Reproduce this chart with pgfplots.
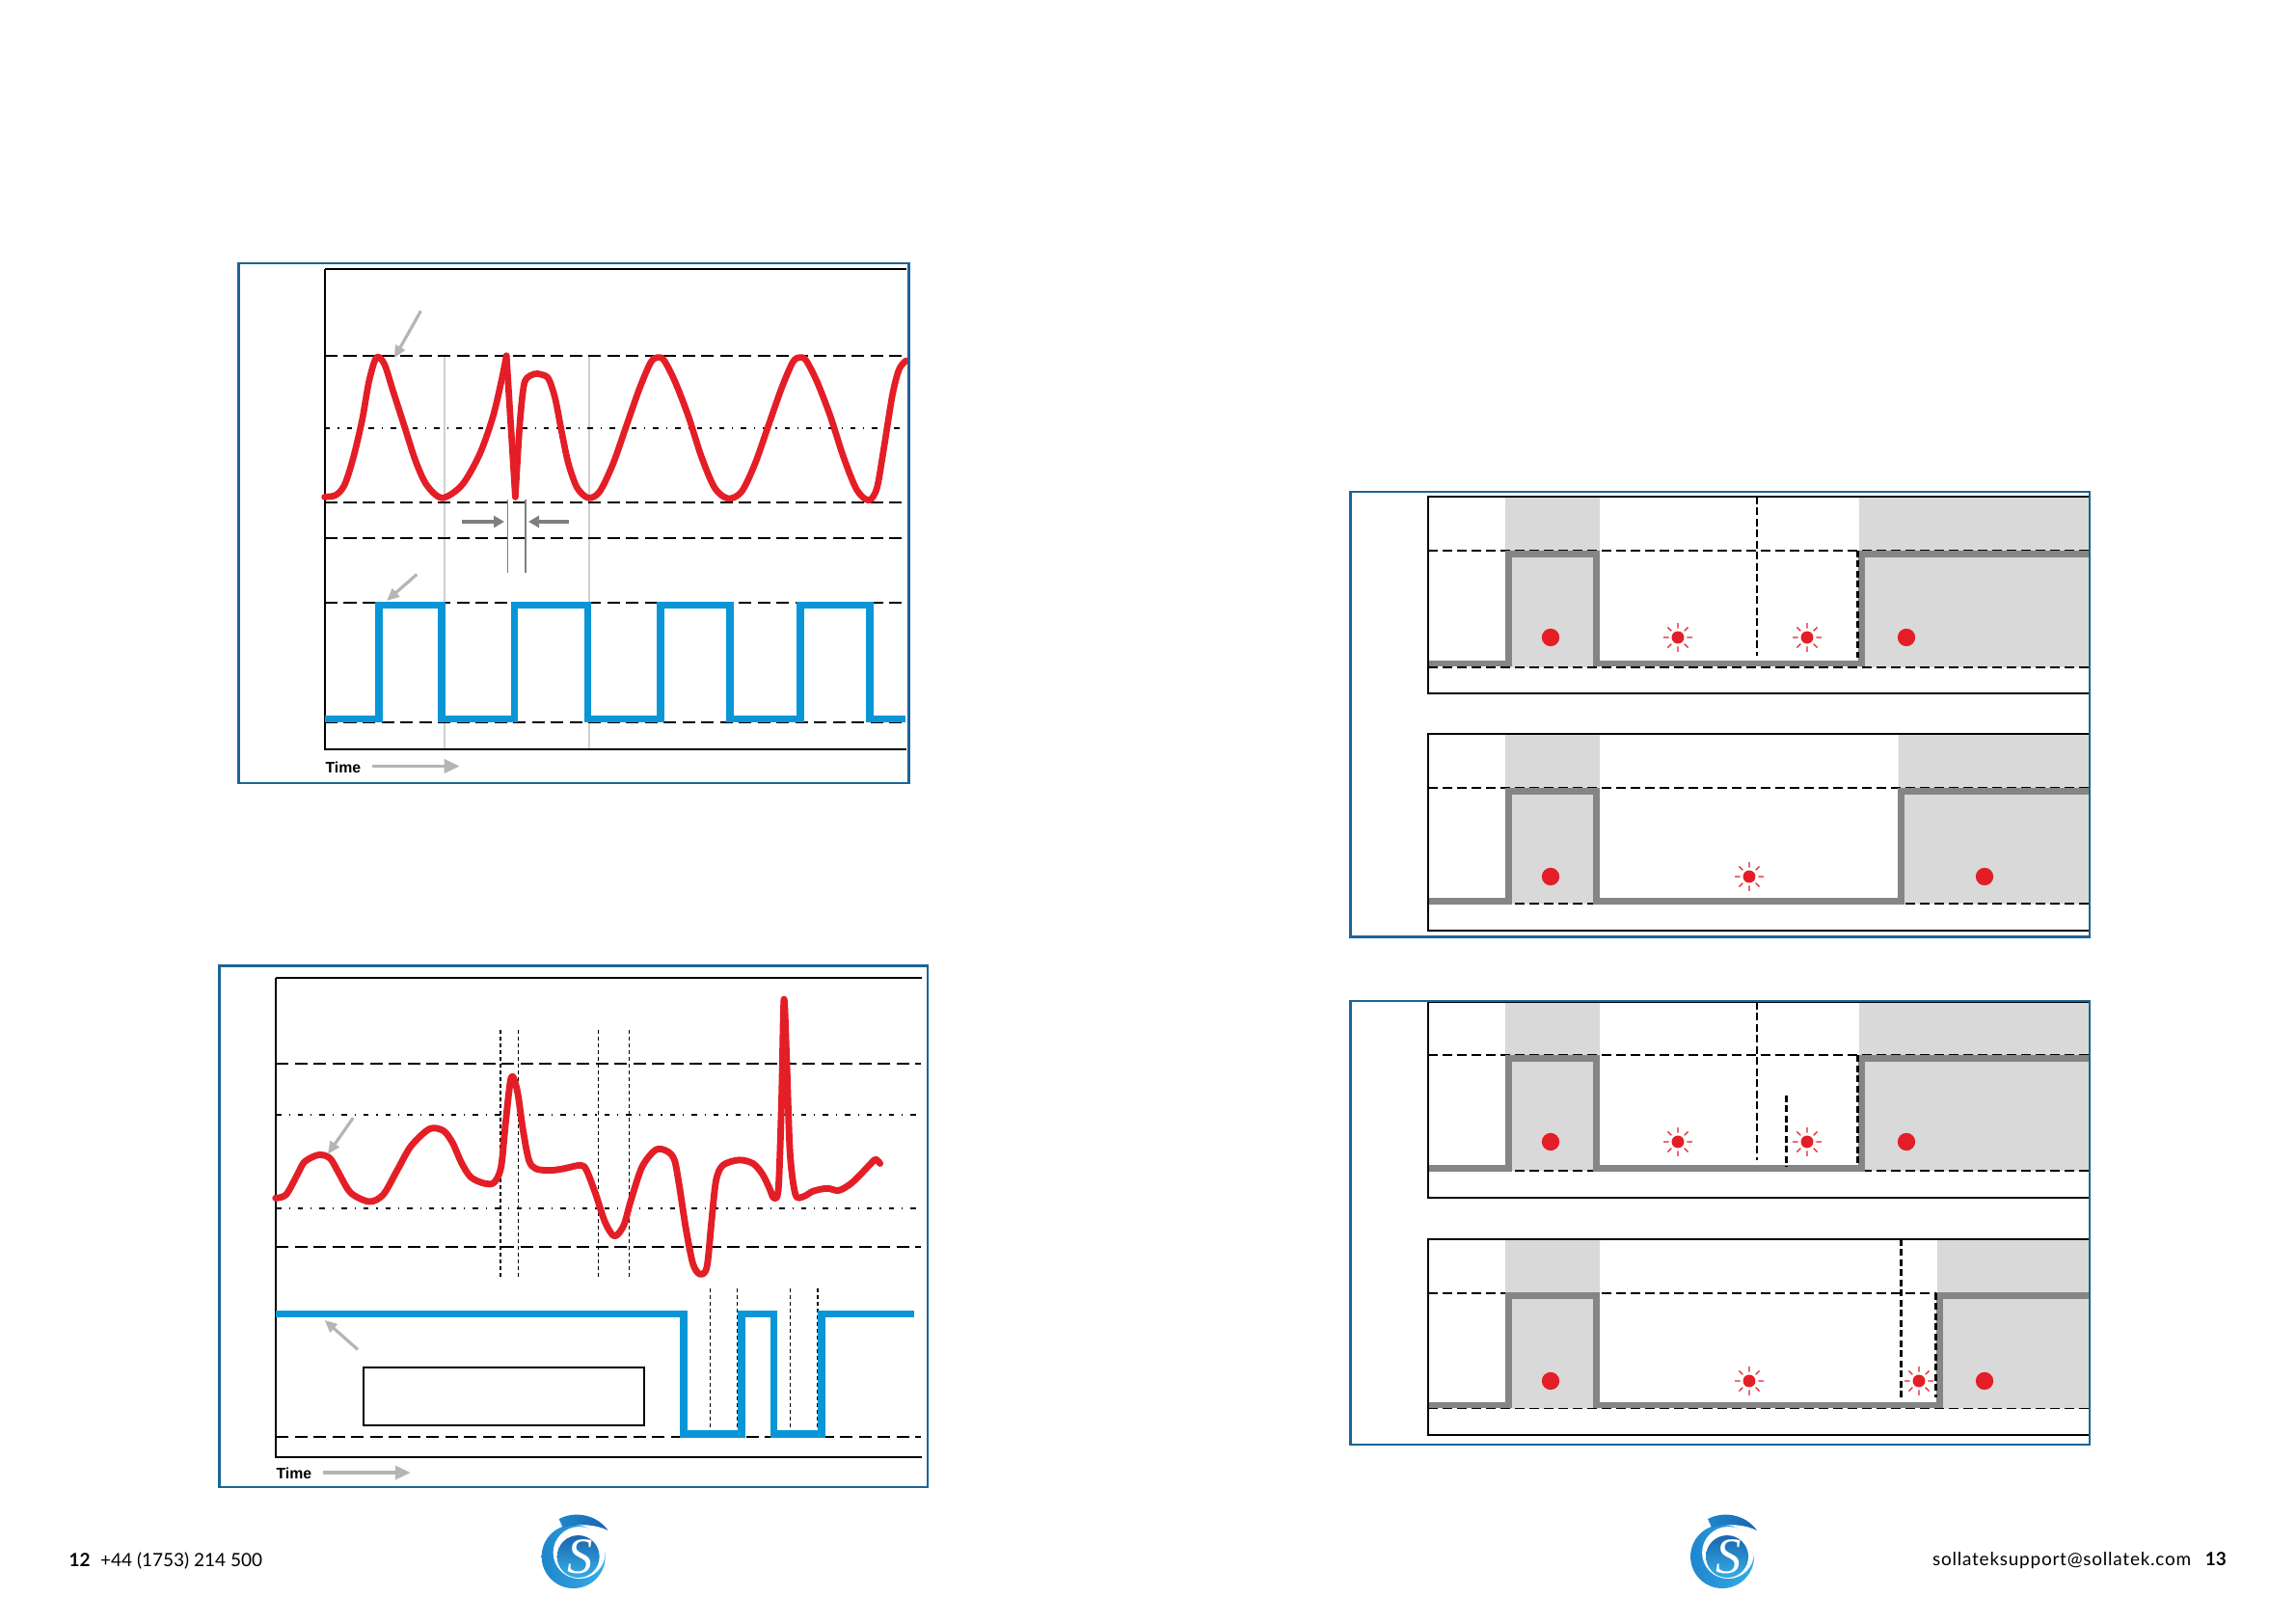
\documentclass[border=0pt]{standalone}
\usepackage{pgfplots}
\pgfplotsset{compat=1.18}
\usepackage{fontspec}
\setmainfont{Lato}
\newfontfamily\arialfont{Liberation Sans}
\newfontfamily\seriffont{Liberation Serif}
\usetikzlibrary{arrows.meta}
\definecolor{sred}{HTML}{E41E26}
\definecolor{sblue}{HTML}{0A96D6}
\definecolor{frameblue}{HTML}{1D6496}
\definecolor{stepgray}{HTML}{858585}
\definecolor{shade}{HTML}{D9D9D9}
\definecolor{lgray}{HTML}{B5B5B5}
\definecolor{dgray}{HTML}{7F7F7F}
\definecolor{vgray}{HTML}{CFCFCF}
\definecolor{logodark}{HTML}{1A66AE}
\definecolor{logomid}{HTML}{1F86CC}
\definecolor{logolight}{HTML}{35AEE6}
\pgfdeclareplotmark{sun}{%
  \pgfpathcircle{\pgfpointorigin}{0.65\pgfplotmarksize}\pgfusepathqfill
  \pgfpathmoveto{\pgfpointpolar{0}{0.95\pgfplotmarksize}}\pgfpathlineto{\pgfpointpolar{0}{1.5\pgfplotmarksize}}%
  \pgfpathmoveto{\pgfpointpolar{45}{0.95\pgfplotmarksize}}\pgfpathlineto{\pgfpointpolar{45}{1.5\pgfplotmarksize}}%
  \pgfpathmoveto{\pgfpointpolar{90}{0.95\pgfplotmarksize}}\pgfpathlineto{\pgfpointpolar{90}{1.5\pgfplotmarksize}}%
  \pgfpathmoveto{\pgfpointpolar{135}{0.95\pgfplotmarksize}}\pgfpathlineto{\pgfpointpolar{135}{1.5\pgfplotmarksize}}%
  \pgfpathmoveto{\pgfpointpolar{180}{0.95\pgfplotmarksize}}\pgfpathlineto{\pgfpointpolar{180}{1.5\pgfplotmarksize}}%
  \pgfpathmoveto{\pgfpointpolar{225}{0.95\pgfplotmarksize}}\pgfpathlineto{\pgfpointpolar{225}{1.5\pgfplotmarksize}}%
  \pgfpathmoveto{\pgfpointpolar{270}{0.95\pgfplotmarksize}}\pgfpathlineto{\pgfpointpolar{270}{1.5\pgfplotmarksize}}%
  \pgfpathmoveto{\pgfpointpolar{315}{0.95\pgfplotmarksize}}\pgfpathlineto{\pgfpointpolar{315}{1.5\pgfplotmarksize}}%
  \pgfusepathqstroke}
\pgfplotsset{
  pg/.style={scale only axis, axis lines=none, ticks=none, clip=false, y dir=reverse, anchor=center},
  ldash/.style={black, line width=0.5pt, dash pattern=on 0.13cm off 0.065cm},
  ddot/.style={black, line width=0.45pt, dash pattern=on 0.055cm off 0.08cm on 0.012cm off 0.08cm},
  fdash/.style={black, line width=0.35pt, dash pattern=on 0.04cm off 0.03cm},
  rdash/.style={black, line width=0.5pt, dash pattern=on 0.1cm off 0.05cm},
  vdash/.style={black, line width=0.45pt, dash pattern=on 0.08cm off 0.035cm},
  tdash/.style={black, line width=0.7pt, dash pattern=on 0.07cm off 0.035cm},
  stepline/.style={stepgray, line width=1.85pt, line join=miter},
  reddot/.style={only marks, mark=*, sred, mark size=2.4pt},
  sunmark/.style={only marks, mark=sun, sred, mark size=2.83pt, line width=0.35pt},
  shaded/.style={fill=shade, draw=none},
}
\begin{document}
\begin{tikzpicture}
\useasboundingbox (0,0) rectangle (23.81,16.84);
\fill[white] (0,0) rectangle (23.81,16.84);

% ---------------- top-left chart ----------------
\begin{axis}[pg, xmin=337, xmax=940, ymin=279, ymax=777, width=6.03cm, height=4.98cm, at={(6.385cm,11.56cm)}]
\addplot[vgray, line width=0.45pt] coordinates {(461,369) (461,777)};
\addplot[vgray, line width=0.45pt] coordinates {(611,369) (611,777)};
\addplot[ldash] coordinates {(337,369) (940,369)};
\addplot[ddot] coordinates {(337,444) (940,444)};
\addplot[ldash] coordinates {(337,521) (940,521)};
\addplot[ldash] coordinates {(337,558) (940,558)};
\addplot[ldash] coordinates {(337,625) (940,625)};
\addplot[ldash] coordinates {(337,749) (940,749)};
\draw[black, line width=0.75pt] (337,279) -- (940,279);
\draw[black, line width=0.75pt] (337,279) -- (337,777) -- (940,777);
\addplot[sblue, line width=2pt, line join=miter] coordinates {(337,746) (393,746) (393,628) (458,628) (458,746) (533.5,746) (533.5,628) (609.5,628) (609.5,746) (685,746) (685,628) (757,628) (757,746) (830,746) (830,628) (902,628) (902,746) (939,746)};
\addplot[sred, line width=1.9pt, smooth, line cap=round, line join=round] coordinates {(336.6,515.3) (348.1,513.5) (357.3,502.8) (366.5,474.2) (375.7,434.9) (382.6,395.7) (390.4,370.7) (398.7,377.8) (407.9,406.4) (419.4,442.1) (430.9,477.8) (442.4,502.8) (458.5,516.3) (479.2,502.8) (497.6,470.6) (511.4,431.4) (520.6,392.1) (525.2,368.9)};
\addplot[sred, line width=1.9pt, line cap=round, line join=round] coordinates {(525.2,368.9) (534.4,515.3)};
\addplot[sred, line width=1.9pt, smooth, line cap=round, line join=round] coordinates {(534.4,515.3) (539,440) (543.6,398) (550.5,389.2) (557.4,387.5) (562,388.5) (568.9,392.8) (575.8,413.5) (582.7,449.2) (589.6,481.3) (598.8,506.3) (610.3,516.3) (621.8,509.9) (635.6,481.3) (649.4,442.1) (663.2,402.8) (674.7,376) (681.6,370.7) (688.5,373.5) (700,395.7) (713.8,431.4) (727.6,474.2) (741.4,506.3) (755.2,517) (769,509.9) (782.8,481.3) (796.6,442.1) (810.4,402.8) (821.9,376) (828.8,370.7) (835.7,373.5) (847.2,395.7) (861,431.4) (874.8,474.2) (888.6,508.1) (901,518.8) (909.3,506.3) (916.2,467.1) (925.4,409.9) (932.3,383.2) (939.2,374.2)};
\draw[dgray, line width=0.45pt] (526.6,518) -- (526.6,594);
\draw[dgray, line width=0.45pt] (545,518) -- (545,594);
\draw[dgray, line width=1.1pt, -{Triangle[length=0.11cm,width=0.12cm]}] (479,541) -- (523,541);
\draw[dgray, line width=1.1pt, -{Triangle[length=0.11cm,width=0.12cm]}] (590,541) -- (548,541);
\draw[lgray, line width=0.9pt, -{Triangle[length=0.13cm,width=0.11cm]}] (436.4,322.5) -- (408.8,371.4);
\draw[lgray, line width=0.9pt, -{Triangle[length=0.13cm,width=0.11cm]}] (432.3,595.6) -- (401,623);
\end{axis}

% ---------------- bottom-left chart ----------------
\begin{axis}[pg, xmin=286, xmax=956, ymin=1014, ymax=1511, width=6.70cm, height=4.97cm, at={(6.21cm,4.215cm)}]
\addplot[ldash] coordinates {(286,1103) (955,1103)};
\addplot[ddot] coordinates {(286,1156) (955,1156)};
\addplot[ddot] coordinates {(286,1253) (955,1253)};
\addplot[ldash] coordinates {(286,1293.3) (955,1293.3)};
\addplot[ldash] coordinates {(286,1490) (955,1490)};
\addplot[fdash] coordinates {(519.1,1068.5) (519.1,1326.6)};
\addplot[fdash] coordinates {(537.8,1068.5) (537.8,1326.6)};
\addplot[fdash] coordinates {(620.3,1068.5) (620.3,1326.6)};
\addplot[fdash] coordinates {(652.4,1068.5) (652.4,1326.6)};
\addplot[fdash] coordinates {(736.8,1335.6) (736.8,1486)};
\addplot[fdash] coordinates {(764.6,1335.6) (764.6,1486)};
\addplot[fdash] coordinates {(819.7,1335.6) (819.7,1486)};
\addplot[fdash] coordinates {(848,1335.6) (848,1486)};
\draw[black, line width=0.75pt] (286,1014) -- (956,1014);
\draw[black, line width=0.75pt] (286,1014) -- (286,1511) -- (956,1511);
\draw[black, line width=0.6pt] (376.8,1418) rectangle (668.2,1478);
\addplot[sblue, line width=2pt, line join=miter] coordinates {(286,1363) (709,1363) (709,1487) (769,1487) (769,1363) (802.5,1363) (802.5,1487) (852,1487) (852,1363) (948,1363)};
\addplot[sred, line width=1.95pt, smooth, tension=0.5, line cap=round, line join=round] coordinates {(285.7,1242.4) (296.7,1238.8) (308.7,1217.3) (315.9,1204.7) (330.3,1197.6) (342.2,1201.1) (351.8,1217.3) (363.8,1237) (383,1246) (397.4,1238.8) (411.8,1213.7) (426.1,1188.6) (445.3,1170.7) (459.7,1172.5) (469.3,1185) (478.9,1206.5) (488.5,1220.9) (502.8,1227.3) (512.4,1226.2) (519.6,1210.1) (524.4,1163.5) (530.2,1116.9) (536.4,1131.2) (542.2,1170.7) (548.4,1202.9) (555.6,1211.9) (570,1213.7) (584.3,1211.9) (602.1,1208.3) (608.3,1213.7) (617.9,1238.8) (627.5,1267.5) (637.1,1281.8) (646.7,1271) (653.9,1246) (665.8,1210.1) (680.2,1192.2) (692.2,1194) (699.4,1202.9) (704.2,1228) (711.4,1274.6) (718.6,1310.5) (725.8,1321.2) (733,1314.1) (737.8,1267.5) (742.5,1224.4) (749.7,1208.3) (766.5,1202.9) (780.9,1206.5) (790.5,1217.3) (797.7,1231.6) (802.5,1242.4) (807.3,1231.6) (810.6,1138.4) (813,1036.2) (815.9,1102.6) (819.3,1195.8) (825,1238.8) (833.6,1240.6) (843.2,1235.2) (857.6,1232.3) (869.6,1234.5) (881.6,1228) (891.2,1219.1) (903.2,1206.5) (908,1202.2) (912.7,1206.5)};
\draw[lgray, line width=0.9pt, -{Triangle[length=0.13cm,width=0.11cm]}] (366.2,1159.2) -- (339.9,1196.8);
\draw[lgray, line width=0.9pt, -{Triangle[length=0.13cm,width=0.11cm]}] (371,1399.4) -- (336.5,1368.9);
\end{axis}

% ---------------- right chart A ----------------
\begin{axis}[pg, xmin=1481, xmax=2169, ymin=515, ymax=719, width=6.88cm, height=2.04cm, at={(18.25cm,10.67cm)}]
\addplot[shaded] coordinates {(1561,515) (1659,515) (1659,692) (1561,692) (1561,515)};
\addplot[shaded] coordinates {(1928,515) (2168,515) (2168,692) (1928,692) (1928,515)};
\addplot[rdash] coordinates {(1481,571) (2168,571)};
\addplot[rdash] coordinates {(1481,692) (2168,692)};
\addplot[vdash] coordinates {(1821.8,515) (1821.8,680)};
\addplot[stepline] coordinates {(1481,688) (1564.3,688) (1564.3,574.5) (1655.5,574.5) (1655.5,688) (1930.5,688) (1930.5,574.5) (2168,574.5)};
\addplot[tdash] coordinates {(1926.4,571) (1926.4,682)};
\draw[black, line width=0.75pt] (2168,515) -- (1481,515) -- (1481,719) -- (2168,719);
\addplot[reddot] coordinates {(1608,661) (1977,661)};
\addplot[sunmark] coordinates {(1740,661) (1874,661)};
\end{axis}

% ---------------- right chart B ----------------
\begin{axis}[pg, xmin=1481, xmax=2169, ymin=761, ymax=965, width=6.88cm, height=2.04cm, at={(18.25cm,8.21cm)}]
\addplot[shaded] coordinates {(1561,761) (1659,761) (1659,937.3) (1561,937.3) (1561,761)};
\addplot[shaded] coordinates {(1968.7,761) (2168,761) (2168,937.3) (1968.7,937.3) (1968.7,761)};
\addplot[rdash] coordinates {(1481,817.3) (2168,817.3)};
\addplot[rdash] coordinates {(1481,937.3) (2168,937.3)};
\addplot[stepline] coordinates {(1481,934.3) (1564.3,934.3) (1564.3,820.5) (1655.5,820.5) (1655.5,934.3) (1971.7,934.3) (1971.7,820.5) (2168,820.5)};
\draw[black, line width=0.75pt] (2168,761) -- (1481,761) -- (1481,965) -- (2168,965);
\addplot[reddot] coordinates {(1608,909) (2058,909)};
\addplot[sunmark] coordinates {(1814,909)};
\end{axis}

% ---------------- right chart C ----------------
\begin{axis}[pg, xmin=1481, xmax=2169, ymin=1039, ymax=1242, width=6.88cm, height=2.03cm, at={(18.25cm,5.435cm)}]
\addplot[shaded] coordinates {(1561,1039) (1659,1039) (1659,1214) (1561,1214) (1561,1039)};
\addplot[shaded] coordinates {(1928,1039) (2168,1039) (2168,1214) (1928,1214) (1928,1039)};
\addplot[rdash] coordinates {(1481,1094.3) (2168,1094.3)};
\addplot[rdash] coordinates {(1481,1214.1) (2168,1214.1)};
\addplot[vdash] coordinates {(1821.8,1039) (1821.8,1203)};
\addplot[stepline] coordinates {(1481,1211.5) (1564.3,1211.5) (1564.3,1097.6) (1655.5,1097.6) (1655.5,1211.5) (1930.5,1211.5) (1930.5,1097.6) (2168,1097.6)};
\addplot[tdash] coordinates {(1852.7,1136) (1852.7,1210)};
\addplot[tdash] coordinates {(1926.4,1094.3) (1926.4,1206)};
\draw[black, line width=0.75pt] (2168,1039) -- (1481,1039) -- (1481,1242) -- (2168,1242);
\addplot[reddot] coordinates {(1608,1184) (1977,1184)};
\addplot[sunmark] coordinates {(1740,1184) (1874,1184)};
\end{axis}

% ---------------- right chart D ----------------
\begin{axis}[pg, xmin=1481, xmax=2169, ymin=1285, ymax=1488, width=6.88cm, height=2.03cm, at={(18.25cm,2.975cm)}]
\addplot[shaded] coordinates {(1561,1285) (1659,1285) (1659,1460.6) (1561,1460.6) (1561,1285)};
\addplot[shaded] coordinates {(2009,1285) (2168,1285) (2168,1460.6) (2009,1460.6) (2009,1285)};
\addplot[rdash] coordinates {(1481,1340.7) (2168,1340.7)};
\addplot[rdash] coordinates {(1481,1460.6) (2168,1460.6)};
\addplot[stepline] coordinates {(1481,1457.2) (1564.3,1457.2) (1564.3,1343.4) (1655.5,1343.4) (1655.5,1457.2) (2011.5,1457.2) (2011.5,1343.4) (2168,1343.4)};
\addplot[tdash] coordinates {(1971.7,1285) (1971.7,1449.6)};
\addplot[tdash] coordinates {(2007.5,1340.7) (2007.5,1449)};
\draw[black, line width=0.75pt] (2168,1285) -- (1481,1285) -- (1481,1488) -- (2168,1488);
\addplot[reddot] coordinates {(1608,1432) (2058,1432)};
\addplot[sunmark] coordinates {(1814,1432) (1990,1432)};
\end{axis}

% ---------------- page furniture (pixel coordinates, y downwards) ----------------
\begin{scope}[x=0.01cm, y=-0.01cm, shift={(0,16.84cm)}]
\draw[frameblue, line width=0.75pt] (247.5,273.3) rectangle (943,812.4);
\draw[frameblue, line width=0.75pt] (227.8,1002.2) rectangle (962.7,1542.8);
\draw[frameblue, line width=0.75pt] (1401.6,510.2) rectangle (2168.4,971.8);
\draw[frameblue, line width=0.75pt] (1401.6,1038.7) rectangle (2168.4,1498.8);
\node[anchor=west, inner sep=0, font=\arialfont\bfseries\fontsize{4.5pt}{5pt}\selectfont] at (337,796) {Time};
\draw[lgray, line width=1pt, -{Triangle[length=0.16cm,width=0.14cm]}] (386,795) -- (477,795);
\node[anchor=west, inner sep=0, font=\arialfont\bfseries\fontsize{4.5pt}{5pt}\selectfont] at (286,1529) {Time};
\draw[lgray, line width=1pt, -{Triangle[length=0.16cm,width=0.14cm]}] (335,1528) -- (426,1528);
\node[anchor=west, inner sep=0, font=\fontsize{5.4pt}{6pt}\selectfont] at (71,1619) {\textbf{12}\hspace{3pt}+44 (1753) 214 500};
\node[anchor=east, inner sep=0, font=\fontsize{5.4pt}{6pt}\selectfont] at (2311,1619) {{\addfontfeature{LetterSpace=4}sollateksupport@sollatek.com}\hspace{4pt}\textbf{13}};
\foreach \sx in {550,1742.1}{
  \begin{scope}[shift={(\sx,1560)}]
    \shade[left color=logomid, right color=logolight] (45,55) circle [radius=33];
    \fill[white] (51,51) circle [radius=27];
    \shade[top color=logodark, bottom color=logolight] (50,55) circle [radius=22];
    \shade[left color=logomid, right color=logodark] (30,16) .. controls (45,8) and (68,10) .. (81,28) .. controls (70,22) and (50,20) .. (34,25) -- cycle;
    \node[white, inner sep=0, font=\seriffont\itshape\fontsize{15pt}{15pt}\selectfont] at (52,55) {S};
  \end{scope}
}
\end{scope}
\end{tikzpicture}
\end{document}
